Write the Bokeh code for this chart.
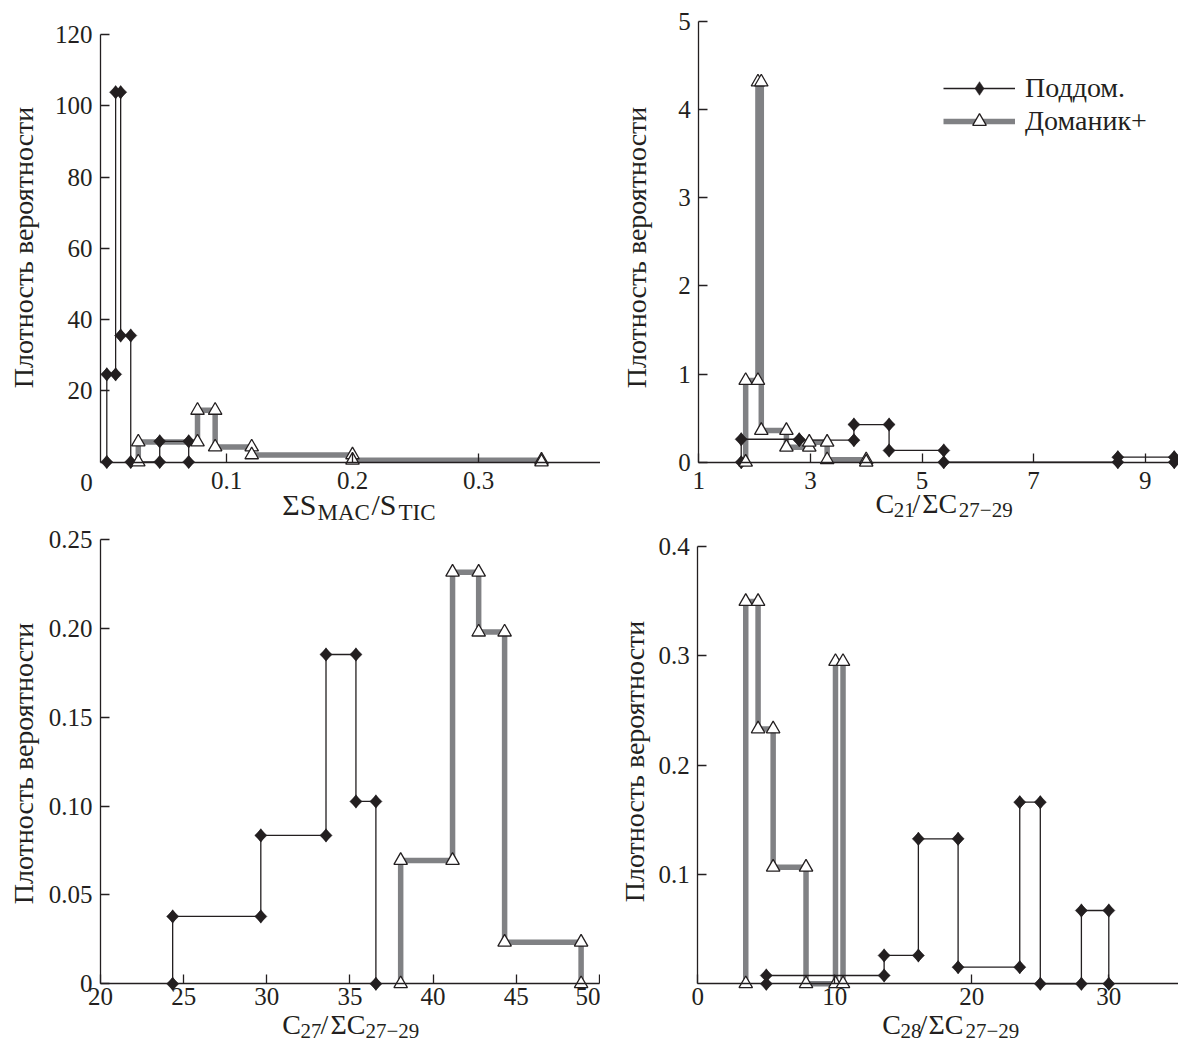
import math
from bokeh.plotting import figure
from bokeh.layouts import column, row
from bokeh.models import Range1d, FixedTicker, Label, Legend, LegendItem
from bokeh.embed import file_html
from bokeh.resources import INLINE

# ---------------- data (bin edges and probability densities) ----------------
# Panel A: ΣS_MAC/S_TIC
a_pod_edges = [0.005, 0.012, 0.016, 0.024, 0.047, 0.070]
a_pod_dens = [24.6, 103.8, 35.5, 0.0, 5.8]
a_dom_edges = [0.030, 0.077, 0.091, 0.120, 0.200, 0.350]
a_dom_dens = [5.6, 14.5, 4.2, 2.0, 0.5]
a_xticks = [0.1, 0.2, 0.3, 0.4]
a_yticks = [20, 40, 60, 80, 100, 120]

# Panel B: C21/ΣC27-29
b_pod_edges = [1.76, 2.80, 3.78, 4.41, 5.39, 8.51, 9.52]
b_pod_dens = [0.26, 0.25, 0.427, 0.133, 0.0, 0.057]
b_dom_edges = [1.84, 2.06, 2.12, 2.57, 2.98, 3.30, 4.00]
b_dom_dens = [0.926, 4.31, 0.36, 0.17, 0.227, 0.027]
b_xticks = [1, 3, 5, 7, 9]
b_yticks = [0, 1, 2, 3, 4, 5]

# Panel C: C27/ΣC27-29
c_pod_edges = [24.34, 29.64, 33.56, 35.36, 36.56]
c_pod_dens = [0.0379, 0.0835, 0.1853, 0.1026]
c_dom_edges = [38.05, 41.17, 42.74, 44.30, 48.90]
c_dom_dens = [0.0694, 0.2316, 0.1979, 0.0234]
c_xticks = [20, 25, 30, 35, 40, 45, 50]
c_yticks = [0, 0.05, 0.10, 0.15, 0.20, 0.25]
c_ylabels = {0: "0", 0.05: "0.05", 0.1: "0.10", 0.15: "0.15", 0.2: "0.20", 0.25: "0.25"}

# Panel D: C28/ΣC27-29
d_pod_edges = [5.0, 13.6, 16.1, 19.0, 23.5, 25.0, 28.0, 30.0]
d_pod_dens = [0.0076, 0.0259, 0.1325, 0.0152, 0.166, 0.0, 0.067]
d_dom_edges = [3.5, 4.4, 5.5, 7.9, 10.05, 10.6]
d_dom_dens = [0.3495, 0.233, 0.1066, 0.0, 0.2946]
d_xticks = [0, 10, 20, 30]
d_yticks = [0.1, 0.2, 0.3, 0.4]

series_names = ["Поддом.", "Доманик+"]
ylabel_text = "Плотность вероятности"

# ---------------- style ----------------
INK = "#231f20"
GRAY = "#808184"
FONT = "Liberation Serif"
TICK_FS = 25
LAB_FS = 28
SUB_FS = 21
MID = 0.3375  # distance from alphabetic baseline to the middle of the text box, in em

TOP_H = 525
BOT_H = 1043 - TOP_H


def steps(edges, dens):
    xs = [edges[0]]
    ys = [0.0]
    for i, d in enumerate(dens):
        xs += [edges[i], edges[i + 1]]
        ys += [d, d]
    xs.append(edges[-1])
    ys.append(0.0)
    return xs, ys


def make_panel(ox, oy, W, H, L, T, sx, FH0, x0, x1, ymax, xticks, yticks,
               pod, dom, ylab_overrides=None, x_standoff=10):
    """Frame covers the whole figure; axes are pinned at x0 / y=0."""
    sy = FH0 / ymax
    xs0 = x0 - L / sx
    xs1 = xs0 + W / sx
    yt = ymax + T / sy
    yb = yt - H / sy
    if x1 is None:
        x1 = xs1
    p = figure(width=W, height=H, output_backend="svg", toolbar_location=None,
               x_range=Range1d(xs0, xs1), y_range=Range1d(yb, yt),
               min_border=0, min_border_left=0, min_border_right=0,
               min_border_top=0, min_border_bottom=0, title=None)
    p.outline_line_color = None
    p.xgrid.visible = False
    p.ygrid.visible = False
    p.background_fill_color = "white"
    p.border_fill_color = "white"
    for ax in (p.xaxis[0], p.yaxis[0]):
        ax.axis_line_color = INK
        ax.axis_line_width = 1.3
        ax.major_tick_line_color = INK
        ax.major_tick_line_width = 1.3
        ax.major_tick_in = 9
        ax.major_tick_out = 0
        ax.minor_tick_line_color = None
        ax.major_label_text_font = FONT
        ax.major_label_text_font_size = f"{TICK_FS}px"
        ax.major_label_text_color = INK
        ax.axis_label = None
    p.xaxis.fixed_location = 0
    p.yaxis.fixed_location = x0
    p.xaxis.bounds = (x0, x1)
    p.yaxis.bounds = (0, ymax)
    p.xaxis.ticker = FixedTicker(ticks=xticks)
    p.yaxis.ticker = FixedTicker(ticks=yticks)
    p.xaxis.major_label_standoff = x_standoff
    p.yaxis.major_label_standoff = 8
    if ylab_overrides:
        p.yaxis.major_label_overrides = ylab_overrides

    dx, dy = steps(*dom)
    bx, by = steps(*pod)
    lg = p.line(dx, dy, line_color=GRAY, line_width=5.5)
    lb = p.line(bx, by, line_color=INK, line_width=1.3)
    sd = p.scatter(bx, by, marker="diamond", size=13.5,
                   fill_color=INK, line_color=INK, line_width=0.5)
    p.scatter(bx, by, marker="square", angle=math.pi / 4, size=8.6,
              fill_color=INK, line_color=INK, line_width=0.5)
    sg = p.scatter(dx, dy, marker="triangle", size=13.5, fill_color="white",
                   line_color=INK, line_width=1.3)

    geom = dict(ox=ox, oy=oy, W=W, H=H, xs0=xs0, yt=yt, sx=sx, sy=sy)
    return p, geom, (lb, sd, lg, sg)


def to_data(g, px, py):
    x = g["xs0"] + (px - g["ox"]) / g["sx"]
    y = g["yt"] - (py - g["oy"]) / g["sy"]
    return x, y


def add_text(p, g, px, py_base, text, size, align="left"):
    """Horizontal text; py_base is the wanted alphabetic baseline (picture px)."""
    x, y = to_data(g, px, py_base - MID * size)
    p.add_layout(Label(x=x, y=y, text=text, text_font=FONT, text_font_size=f"{size}px",
                       text_color=INK, text_align=align, text_baseline="middle"))


def add_vtext(p, g, px_base, py_center, text, size):
    """Text rotated 90°, read bottom-to-top; px_base is the baseline's x."""
    x, y = to_data(g, px_base - MID * size, py_center)
    p.add_layout(Label(x=x, y=y, text=text, text_font=FONT, text_font_size=f"{size}px",
                       text_color=INK, text_align="center", text_baseline="middle",
                       angle=math.pi / 2, angle_units="rad"))


# ---------------- panels (picture coordinates) ----------------
pA, gA, _ = make_panel(0, 0, 600, TOP_H, 100, 34, 1260, 427.5, 0, 0.4, 120,
                       a_xticks, a_yticks, (a_pod_edges, a_pod_dens), (a_dom_edges, a_dom_dens))
pB, gB, rB = make_panel(600, 0, 578, TOP_H, 98.3, 20.7, 55.8, 441, 1, None, 5,
                        b_xticks, b_yticks, (b_pod_edges, b_pod_dens), (b_dom_edges, b_dom_dens))
pC, gC, _ = make_panel(0, TOP_H, 600, BOT_H, 100, 539 - TOP_H, 16.63, 444.3, 20, 50, 0.25,
                       c_xticks, c_yticks, (c_pod_edges, c_pod_dens), (c_dom_edges, c_dom_dens),
                       ylab_overrides=c_ylabels, x_standoff=4)
pD, gD, _ = make_panel(600, TOP_H, 578, BOT_H, 97.3, 545.7 - TOP_H, 13.7, 437.6, 0, None, 0.4,
                       d_xticks, d_yticks, (d_pod_edges, d_pod_dens), (d_dom_edges, d_dom_dens),
                       x_standoff=4)

# corner "0" of panel A
add_text(pA, gA, 86, 490, "0", TICK_FS, align="center")

# y-axis titles
for p, g, bx, cy in ((pA, gA, 32, 247), (pB, gB, 645, 247),
                     (pC, gC, 32, 763), (pD, gD, 643.5, 761)):
    add_vtext(p, g, bx, cy, ylabel_text, LAB_FS)

# x-axis titles (with subscripts)
for txt, px, sub in (("ΣS", 281.7, False), ("MAC", 317, True), ("/S", 371, False), ("TIC", 398, True)):
    add_text(pA, gA, px, 519.5 if sub else 514.5, txt, 23 if sub else 30)
for txt, px, sub in (("C", 875, False), ("21", 893.3, True), ("/", 912, False),
                     ("ΣC", 921.7, False), ("27−29", 958.3, True)):
    add_text(pB, gB, px, 517 if sub else 512, txt, SUB_FS if sub else LAB_FS)
for txt, px, sub in (("C", 281.7, False), ("27", 300, True), ("/", 320, False),
                     ("ΣC", 330, False), ("27−29", 365, True)):
    add_text(pC, gC, px, 1038 if sub else 1033, txt, SUB_FS if sub else LAB_FS)
for txt, px, sub in (("C", 881.7, False), ("28", 900, True), ("/", 919, False),
                     ("ΣC", 928, False), ("27−29", 965, True)):
    add_text(pD, gD, px, 1038 if sub else 1033, txt, SUB_FS if sub else LAB_FS)

# legend in panel B
lb, sd, lg, sg = rB
common = dict(border_line_color=None, background_fill_alpha=0, padding=0, margin=0,
              spacing=0, glyph_width=72, glyph_height=34, label_height=33,
              label_standoff=10, label_text_font=FONT,
              label_text_font_size=f"{LAB_FS}px", label_text_color=INK, orientation="vertical")
leg1 = Legend(items=[LegendItem(label=series_names[0], renderers=[lb, sd])],
              location=(943 - gB["ox"], gB["H"] - 105), **common)
leg2 = Legend(items=[LegendItem(label=series_names[1], renderers=[lg, sg])],
              location=(943 - gB["ox"], gB["H"] - 138), **common)
pB.add_layout(leg1)
pB.add_layout(leg2)

layout = column(row(pA, pB), row(pC, pD))
open("out.html", "w").write(file_html(layout, INLINE))
